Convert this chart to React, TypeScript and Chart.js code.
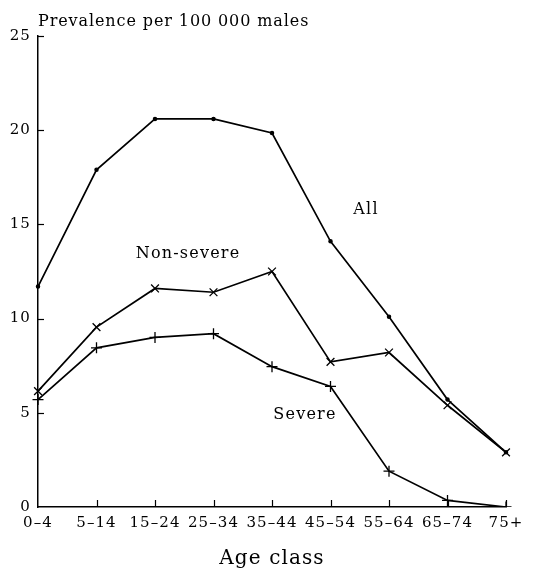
import React, { useEffect, useRef } from "react";
import { Chart, registerables } from "chart.js";

Chart.register(...registerables);

const ageClasses = ["0–4", "5–14", "15–24", "25–34", "35–44", "45–54", "55–64", "65–74", "75+"];
const allValues = [11.7, 17.9, 20.6, 20.6, 19.85, 14.1, 10.1, 5.7, 2.9];
const nonSevereValues = [6.15, 9.55, 11.6, 11.4, 12.5, 7.7, 8.2, 5.4, 2.9];
const severeValues = [5.7, 8.45, 9.0, 9.2, 7.45, 6.4, 1.9, 0.35, 0.0];
const yTicks = [0, 5, 10, 15, 20, 25];

const FONT = "'DejaVu Serif', serif";

const spacingPlugin = {
  id: "spacingPlugin",
  beforeDraw(chart: any) {
    (chart.ctx as any).letterSpacing = "1.1px";
  },
};

const labelsPlugin = {
  id: "labelsPlugin",
  afterDraw(chart: any) {
    const { ctx, scales } = chart;
    const x = scales.x;
    const y = scales.y;
    ctx.save();
    ctx.strokeStyle = "#000";
    ctx.lineWidth = 1.2;
    yTicks.forEach((v) => {
      if (v === 0) return;
      const py = Math.round(y.getPixelForValue(v)) + 0.5;
      ctx.beginPath();
      ctx.moveTo(x.left, py);
      ctx.lineTo(x.left + 6, py);
      ctx.stroke();
    });
    ageClasses.forEach((_, i) => {
      if (i === 0) return;
      const px = Math.round(x.getPixelForValue(i)) + 0.5;
      ctx.beginPath();
      ctx.moveTo(px, y.bottom);
      ctx.lineTo(px, y.bottom - 7);
      ctx.stroke();
    });
    ctx.fillStyle = "#000";
    ctx.font = `16px ${FONT}`;
    (ctx as any).letterSpacing = "0.9px";
    ctx.textBaseline = "alphabetic";
    ctx.textAlign = "left";
    ctx.fillText("Prevalence per 100 000 males", x.left, 26);
    (ctx as any).letterSpacing = "1.2px";
    ctx.textBaseline = "middle";
    ctx.textAlign = "center";
    ctx.fillText("All", 366, 210);
    ctx.fillText("Non-severe", 188, 254);
    ctx.fillText("Severe", 305, 415);
    ctx.restore();
  },
};

export default function App() {
  const ref = useRef<HTMLCanvasElement>(null);
  useEffect(() => {
    if (!ref.current) return;
    const common = {
      borderColor: "#000",
      backgroundColor: "#000",
      borderWidth: 1.7,
      pointBorderWidth: 1.3,
      tension: 0,
      fill: false,
    };
    const chart = new Chart(ref.current, {
      type: "line",
      data: {
        labels: ageClasses,
        datasets: [
          { ...common, label: "All", data: allValues, pointStyle: "circle", pointRadius: 1.6 },
          { ...common, label: "Non-severe", data: nonSevereValues, pointStyle: "crossRot", pointRadius: 5.5 },
          { ...common, label: "Severe", data: severeValues, pointStyle: "cross", pointRadius: 5.5 },
        ],
      },
      options: {
        animation: false,
        responsive: false,
        layout: { padding: { top: 36, right: 38, left: 0, bottom: 0 } },
        plugins: { legend: { display: false }, title: { display: false }, tooltip: { enabled: false } },
        scales: {
          x: {
            type: "category",
            offset: false,
            grid: { display: false, drawTicks: false },
            border: { display: true, color: "#000", width: 1.5 },
            ticks: { color: "#000", font: { family: FONT, size: 15 }, padding: 7, maxRotation: 0, autoSkip: false },
            title: { display: true, text: "Age class", color: "#000", font: { family: FONT, size: 20 }, padding: { top: 0, bottom: 0 } },
            afterFit: (s: any) => { s.height = 64; },
          },
          y: {
            min: 0,
            max: 25,
            grid: { display: false, drawTicks: false },
            border: { display: true, color: "#000", width: 1.5 },
            ticks: { color: "#000", stepSize: 5, font: { family: FONT, size: 15 }, padding: 7 },
            afterFit: (s: any) => { s.width = 38; },
          },
        },
      },
      plugins: [spacingPlugin, labelsPlugin],
    });
    return () => chart.destroy();
  }, []);
  return (
    <div style={{ position: "fixed", left: 0, top: 0, width: 544, height: 571, background: "#fff" }}>
      <canvas ref={ref} width={544} height={571} style={{ width: 544, height: 571 }} />
    </div>
  );
}
